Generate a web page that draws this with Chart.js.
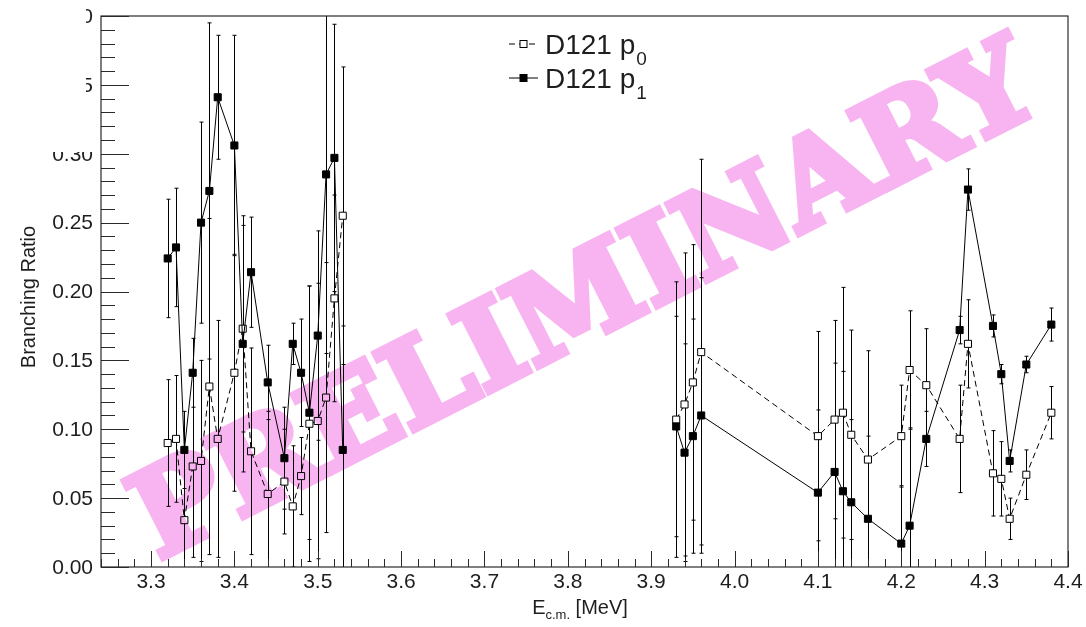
<!DOCTYPE html>
<html>
<head>
<meta charset="utf-8">
<script src="https://cdn.jsdelivr.net/npm/chart.js@4.4.0/dist/chart.umd.min.js"></script>
<style>
  html, body { margin: 0; padding: 0; background: #ffffff; }
  #wrap { width: 1086px; height: 627px; position: relative; }
  canvas { display: block; }
</style>
</head>
<body>
<div id="wrap"><canvas id="chart" width="1086" height="627"></canvas></div>
<script>
// Centre-of-mass energies (MeV) of each measurement
const energies = [
  3.32, 3.33, 3.34, 3.35, 3.36, 3.37, 3.38, 3.40, 3.41, 3.42,
  3.44, 3.46, 3.47, 3.48, 3.49, 3.50, 3.51, 3.52, 3.53,
  3.93, 3.94, 3.95, 3.96, 4.10, 4.12, 4.13, 4.14, 4.16, 4.20,
  4.21, 4.23, 4.27, 4.28, 4.31, 4.32, 4.33, 4.35, 4.38
];

// D121 p0 branching ratio and its uncertainty
const p0Ratio = [
  0.090, 0.093, 0.034, 0.073, 0.077, 0.131, 0.093, 0.141, 0.173, 0.084,
  0.053, 0.062, 0.044, 0.066, 0.104, 0.106, 0.123, 0.195, 0.255,
  0.107, 0.118, 0.134, 0.156, 0.095, 0.107, 0.112, 0.096, 0.078, 0.095,
  0.143, 0.132, 0.093, 0.162, 0.068, 0.064, 0.035, 0.067, 0.112
];
const p0Error = [
  0.046, 0.046, 0.050, 0.066, 0.073, 0.122, 0.086, 0.086, 0.075, 0.075,
  0.060, 0.038, 0.044, 0.028, 0.100, 0.100, 0.098, 0.075, 0.108,
  0.100, 0.110, 0.100, 0.140, 0.076, 0.072, 0.091, 0.076, 0.079, 0.037,
  0.043, 0.041, 0.039, 0.032, 0.031, 0.027, 0.015, 0.018, 0.019
];

// D121 p1 branching ratio and its uncertainty
const p1Ratio = [
  0.224, 0.232, 0.085, 0.141, 0.250, 0.273, 0.341, 0.306, 0.162, 0.214,
  0.134, 0.079, 0.162, 0.141, 0.112, 0.168, 0.285, 0.297, 0.085,
  0.102, 0.083, 0.095, 0.110, 0.054, 0.069, 0.055, 0.047, 0.035, 0.017,
  0.030, 0.093, 0.172, 0.274, 0.175, 0.140, 0.077, 0.147, 0.176
];
const p1Error = [
  0.043, 0.043, 0.028, 0.025, 0.073, 0.122, 0.045, 0.080, 0.093, 0.040,
  0.027, 0.037, 0.015, 0.039, 0.092, 0.076, 0.130, 0.097, 0.090,
  0.080, 0.079, 0.085, 0.100, 0.060, 0.079, 0.087, 0.060, 0.060, 0.042,
  0.071, 0.020, 0.010, 0.015, 0.008, 0.007, 0.008, 0.006, 0.012
];

// The two energy runs are not joined by the connecting line
const lineBreakAt = 3.73;

// Axis tick labels
const xTickLabels = ['3.3', '3.4', '3.5', '3.6', '3.7', '3.8', '3.9', '4.0', '4.1', '4.2', '4.3', '4.4'];
const yTickLabels = ['0.00', '0.05', '0.10', '0.15', '0.20', '0.25', '0.30', '0.35', '0.40'];

const SANS = '"Liberation Sans", Arial, Helvetica, sans-serif';
const INK = '#1e1e1e';
const STAMP_PINK = 'rgb(248,180,240)';

function seriesPoints(values) {
  const pts = [];
  energies.forEach((e, i) => {
    if (i > 0 && energies[i - 1] < lineBreakAt && e > lineBreakAt) {
      pts.push({ x: lineBreakAt, y: null });
    }
    pts.push({ x: e, y: values[i] });
  });
  return pts;
}

function drawLegendRow(ctx, y, filled, dashed, sub) {
  ctx.save();
  ctx.strokeStyle = '#000';
  ctx.lineWidth = 1;
  ctx.setLineDash(dashed ? [6, 4] : []);
  ctx.beginPath();
  ctx.moveTo(509, y); ctx.lineTo(538, y);
  ctx.stroke();
  ctx.setLineDash([]);
  ctx.fillStyle = filled ? '#000' : '#fff';
  ctx.fillRect(520, y - 3.5, 7, 7);
  ctx.strokeRect(520, y - 3.5, 7, 7);
  ctx.fillStyle = INK;
  ctx.textAlign = 'left';
  ctx.textBaseline = 'alphabetic';
  ctx.font = '28px ' + SANS;
  const main = 'D121 p';
  ctx.fillText(main, 545, y + 9.5);
  const w = ctx.measureText(main).width;
  ctx.font = '19px ' + SANS;
  ctx.fillText(sub, 545 + w + 1, y + 21);
  ctx.restore();
}

// Heavy slab "PRELIMINARY" stamp, rendered on its own layer
function stampLayer(width, height) {
  const layer = document.createElement('canvas');
  layer.width = width; layer.height = height;
  const c = layer.getContext('2d');
  c.translate(582, 296);
  c.rotate(-27 * Math.PI / 180);
  const size = 118;
  c.font = 'bold ' + size + 'px "DejaVu Serif", serif';
  const word = 'PRELIMINARY';
  const ww = c.measureText(word).width;
  c.scale(995 / ww, 1);
  c.fillStyle = STAMP_PINK;
  c.strokeStyle = STAMP_PINK;
  c.lineWidth = 7;
  c.lineJoin = 'miter';
  c.textAlign = 'center';
  c.textBaseline = 'alphabetic';
  const yb = size * 0.729 / 2;
  c.fillText(word, 0, yb);
  c.strokeText(word, 0, yb);
  return layer;
}

const rootStyle = {
  id: 'rootStyle',
  beforeDraw(chart) {
    const { ctx, width, height } = chart;
    ctx.save();
    ctx.fillStyle = '#fff';
    ctx.fillRect(0, 0, width, height);
    ctx.restore();
  },
  beforeDatasetsDraw(chart) {
    // vertical error bars with small end caps
    const { ctx, chartArea: a, scales: { x, y } } = chart;
    ctx.save();
    ctx.beginPath();
    ctx.rect(a.left, a.top, a.right - a.left, a.bottom - a.top);
    ctx.clip();
    ctx.strokeStyle = '#000';
    ctx.lineWidth = 1;
    const sets = [[p0Ratio, p0Error], [p1Ratio, p1Error]];
    sets.forEach(([vals, errs]) => {
      energies.forEach((e, i) => {
        const px = Math.round(x.getPixelForValue(e)) + 0.5;
        const top = y.getPixelForValue(vals[i] + errs[i]);
        const bot = y.getPixelForValue(vals[i] - errs[i]);
        ctx.beginPath();
        ctx.moveTo(px, top); ctx.lineTo(px, bot);
        ctx.moveTo(px - 2, top); ctx.lineTo(px + 2, top);
        ctx.moveTo(px - 2, bot); ctx.lineTo(px + 2, bot);
        ctx.stroke();
      });
    });
    ctx.restore();
  },
  afterDraw(chart) {
    const { ctx, chartArea: a, scales: { x, y }, width, height } = chart;
    ctx.save();

    // frame
    ctx.strokeStyle = '#2a2a2a';
    ctx.lineWidth = 1.2;
    ctx.strokeRect(a.left, a.top, a.right - a.left, a.bottom - a.top);

    // y ticks (inward), major every 0.05, minor every 0.01
    ctx.lineWidth = 1;
    ctx.beginPath();
    for (let k = 0; k <= 40; k++) {
      const py = Math.round(y.getPixelForValue(k * 0.01)) + 0.5;
      const len = (k % 5 === 0) ? 28 : 14;
      ctx.moveTo(a.left, py); ctx.lineTo(a.left + len, py);
    }
    // x ticks (inward), major every 0.1, minor every 0.02
    for (let k = 0; k <= 58; k++) {
      const v = 3.24 + k * 0.02;
      const px = Math.round(x.getPixelForValue(v)) + 0.5;
      const isMajor = Math.abs(Math.round(v * 10) - v * 10) < 1e-6;
      const len = isMajor ? 16 : 8;
      ctx.moveTo(px, a.bottom); ctx.lineTo(px, a.bottom - len);
    }
    ctx.stroke();

    // tick labels
    ctx.fillStyle = INK;
    ctx.font = '21px ' + SANS;
    ctx.textAlign = 'right';
    ctx.textBaseline = 'middle';
    yTickLabels.forEach(t => {
      ctx.fillText(t, a.left - 8, y.getPixelForValue(parseFloat(t)) + 1);
    });
    ctx.textAlign = 'center';
    xTickLabels.forEach(t => {
      ctx.fillText(t, x.getPixelForValue(parseFloat(t)), a.bottom + 15);
    });

    // y title
    ctx.save();
    ctx.translate(29, 297);
    ctx.rotate(-Math.PI / 2);
    ctx.font = '20px ' + SANS;
    ctx.textAlign = 'center';
    ctx.textBaseline = 'middle';
    ctx.fillText('Branching Ratio', 0, 0);
    ctx.restore();

    // x title: E with subscript c.m.
    ctx.textAlign = 'left';
    ctx.textBaseline = 'alphabetic';
    ctx.font = '20px ' + SANS;
    const wE = ctx.measureText('E').width;
    const wRest = ctx.measureText(' [MeV]').width;
    ctx.font = '13px ' + SANS;
    const wSub = ctx.measureText('c.m.').width;
    const total = wE + wSub + wRest;
    let tx = 580 - total / 2;
    const base = 614;
    ctx.font = '20px ' + SANS;
    ctx.fillText('E', tx, base);
    tx += wE;
    ctx.font = '13px ' + SANS;
    ctx.fillText('c.m.', tx, base + 5);
    tx += wSub;
    ctx.font = '20px ' + SANS;
    ctx.fillText(' [MeV]', tx, base);

    // legend
    drawLegendRow(ctx, 44, false, true, '0');
    drawLegendRow(ctx, 78, true, false, '1');

    // PRELIMINARY stamp, blended so the marks stay visible through it
    ctx.save();
    ctx.globalCompositeOperation = 'multiply';
    ctx.drawImage(stampLayer(width, height), 0, 0);
    ctx.restore();

    // white patch over the top-left corner
    ctx.fillStyle = '#fff';
    ctx.fillRect(0, 0, 86, 146);
    ctx.fillRect(0, 140, 96, 12);

    ctx.restore();
  }
};

new Chart(document.getElementById('chart').getContext('2d'), {
  type: 'line',
  data: {
    datasets: [
      {
        label: 'D121 p1',
        data: seriesPoints(p1Ratio),
        borderColor: '#000',
        borderWidth: 1,
        pointStyle: 'rect',
        pointRadius: 5,
        pointBackgroundColor: '#000',
        pointBorderColor: '#000',
        pointBorderWidth: 1,
        fill: false,
        tension: 0,
        spanGaps: false
      },
      {
        label: 'D121 p0',
        data: seriesPoints(p0Ratio),
        borderColor: '#000',
        borderWidth: 1,
        borderDash: [6, 4],
        pointStyle: 'rect',
        pointRadius: 5,
        pointBackgroundColor: '#fff',
        pointBorderColor: '#000',
        pointBorderWidth: 1,
        fill: false,
        tension: 0,
        spanGaps: false
      }
    ]
  },
  options: {
    responsive: false,
    animation: false,
    devicePixelRatio: 1,
    layout: { padding: { left: 101, top: 16, right: 18, bottom: 60 } },
    plugins: { legend: { display: false }, tooltip: { enabled: false } },
    scales: {
      x: { type: 'linear', min: 3.24, max: 4.4, display: false },
      y: { type: 'linear', min: 0, max: 0.4, display: false }
    }
  },
  plugins: [rootStyle]
});
</script>
</body>
</html>
